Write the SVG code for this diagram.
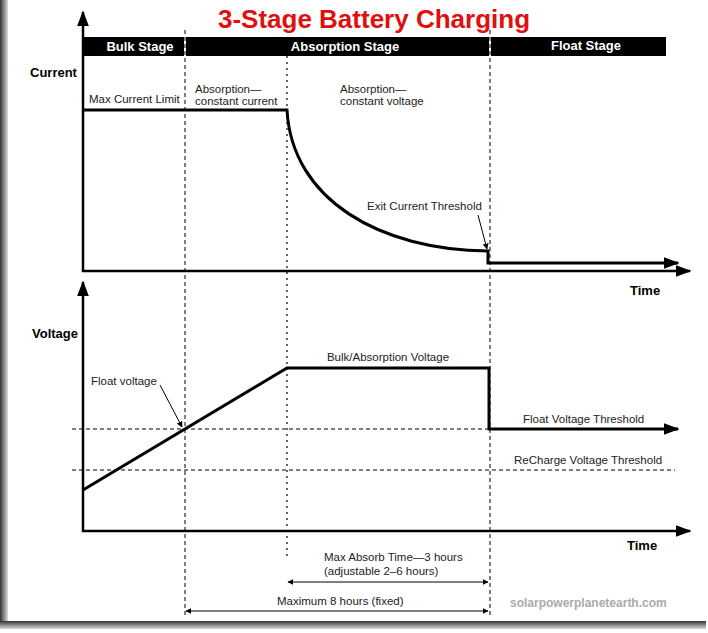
<svg xmlns="http://www.w3.org/2000/svg" width="708" height="633" viewBox="0 0 708 633">
<defs>
<marker id="ah" viewBox="0 0 10 10" refX="9" refY="5" markerWidth="6" markerHeight="6" orient="auto-start-reverse" markerUnits="userSpaceOnUse"><path d="M0,0 L10,5 L0,10 z" fill="#000"/></marker>
<marker id="big" viewBox="0 0 10 10" refX="9" refY="5" markerWidth="16" markerHeight="12" orient="auto" markerUnits="userSpaceOnUse" preserveAspectRatio="none"><path d="M0,0 L10,5 L0,10 z" fill="#000"/></marker>
<linearGradient id="lg" x1="0" x2="1"><stop offset="0" stop-color="#333"/><stop offset="1" stop-color="#ddd"/></linearGradient>
<linearGradient id="bg" x1="0" y1="0" x2="0" y2="1"><stop offset="0" stop-color="#333"/><stop offset="1" stop-color="#ddd"/></linearGradient>
</defs>
<style>
.t{font-family:"Liberation Sans",Arial,sans-serif;font-size:11.5px;fill:#222}
.b{font-family:"Liberation Sans",Arial,sans-serif;font-size:13px;font-weight:bold;fill:#000}
.h{font-family:"Liberation Sans",Arial,sans-serif;font-size:13px;font-weight:bold;fill:#fff}
.d{stroke:#000;stroke-width:1;stroke-dasharray:4,3;fill:none}
.dt{stroke:#000;stroke-width:1.2;stroke-dasharray:2,4;fill:none}
.ax{stroke:#000;stroke-width:2.5;fill:none}
.th{stroke:#000;stroke-width:3;fill:none}
.th2{stroke:#000;stroke-width:1;fill:none}
</style>
<rect width="708" height="633" fill="#fff"/>
<rect x="0" y="0" width="8" height="628" fill="url(#lg)"/>
<rect x="0" y="621" width="706" height="8" fill="url(#bg)"/>
<text x="374" y="28" text-anchor="middle" font-family="Liberation Sans,Arial,sans-serif" font-size="26" font-weight="bold" fill="#e01010">3-Stage Battery Charging</text>
<g id="header">
<rect x="83" y="37" width="583" height="19" fill="#000"/>
<rect x="184" y="37" width="2" height="19" fill="#fff"/>
<rect x="489" y="37" width="2" height="19" fill="#fff"/>
<text x="140" y="51" text-anchor="middle" class="h">Bulk Stage</text>
<text x="345" y="51" text-anchor="middle" class="h">Absorption Stage</text>
<text x="586" y="50" text-anchor="middle" class="h">Float Stage</text>
</g>
<g id="guides">
<line x1="185" y1="30" x2="185" y2="617" class="d"/>
<line x1="287" y1="56" x2="287" y2="560" class="dt"/>
<line x1="490" y1="30" x2="490" y2="617" class="d"/>
<line x1="72" y1="429" x2="675" y2="429" class="d"/>
<line x1="72" y1="470" x2="675" y2="470" class="d"/>
</g>
<g id="connectors">
<line x1="83" y1="272" x2="83" y2="12" class="ax" marker-end="url(#big)"/>
<line x1="82" y1="271" x2="690" y2="271" class="ax" marker-end="url(#big)"/>
<line x1="83" y1="532" x2="83" y2="282" class="ax" marker-end="url(#big)"/>
<line x1="82" y1="531" x2="690" y2="531" class="ax" marker-end="url(#big)"/>
<path d="M83,110 H287 C292,200 380,250 488,251 V263 H678" class="th" marker-end="url(#big)"/>
<path d="M83,490 L287,368 H489 V429 H678" class="th" marker-end="url(#big)"/>
<line x1="478" y1="215" x2="487" y2="249" class="th2" marker-end="url(#ah)"/>
<line x1="160" y1="385" x2="182" y2="427" class="th2" marker-end="url(#ah)"/>
<line x1="288" y1="582" x2="488" y2="582" class="th2" marker-start="url(#ah)" marker-end="url(#ah)"/>
<line x1="186" y1="611" x2="488" y2="611" class="th2" marker-start="url(#ah)" marker-end="url(#ah)"/>
</g>
<g id="labels">
<text x="30" y="77" class="b">Current</text>
<text x="32" y="338" class="b">Voltage</text>
<text x="630" y="295" class="b">Time</text>
<text x="627" y="550" class="b">Time</text>
<text x="89" y="103" class="t">Max Current Limit</text>
<text x="195" y="93" class="t">Absorption—</text>
<text x="195" y="105" class="t">constant current</text>
<text x="340" y="93" class="t">Absorption—</text>
<text x="340" y="105" class="t">constant voltage</text>
<text x="367" y="210" class="t">Exit Current Threshold</text>
<text x="388" y="361" class="t" text-anchor="middle">Bulk/Absorption Voltage</text>
<text x="91" y="385" class="t">Float voltage</text>
<text x="523" y="423" class="t">Float Voltage Threshold</text>
<text x="514" y="464" class="t">ReCharge Voltage Threshold</text>
<text x="324" y="561" class="t">Max Absorb Time—3 hours</text>
<text x="324" y="575" class="t">(adjustable 2–6 hours)</text>
<text x="277" y="605" class="t">Maximum 8 hours (fixed)</text>
<text x="510" y="607" font-family="Liberation Sans,Arial,sans-serif" font-size="12" font-weight="bold" fill="#aaa">solarpowerplanetearth.com</text>
</g>
</svg>
